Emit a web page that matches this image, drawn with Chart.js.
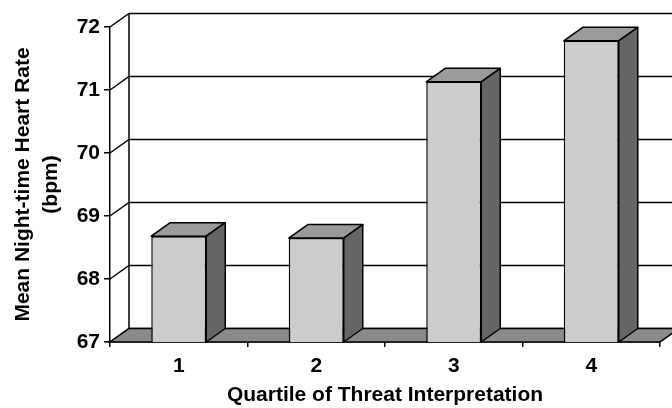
<!DOCTYPE html>
<html>
<head>
<meta charset="utf-8">
<script src="https://cdn.jsdelivr.net/npm/chart.js@4/dist/chart.umd.min.js"></script>
<style>
  html, body { margin: 0; padding: 0; background: #fff; }
  #wrap { width: 672px; height: 408px; }
</style>
</head>
<body>
<div id="wrap"><canvas id="heartChart"></canvas></div>
<script>
const quartiles = ['1', '2', '3', '4'];
const meanHeartRate = [68.68, 68.65, 71.13, 71.78];
const yMin = 67;
const yMax = 72;
const yStep = 1;

// depth of the fake 3d box
const DX = 19;
const DY = 13.5;

const box3d = {
    id: 'box3d',
    beforeDatasetsDraw(chart) {
        const ctx = chart.ctx;
        const area = chart.chartArea;
        const yScale = chart.scales.y;
        const L = area.left, R = area.right, B = area.bottom;
        ctx.save();
        ctx.strokeStyle = '#000';
        ctx.lineWidth = 1.5;
        // back wall gridlines + left wall diagonals
        for (let v = yMin; v <= yMax; v += yStep) {
            const y = yScale.getPixelForValue(v);
            ctx.beginPath();
            ctx.moveTo(L, y);
            ctx.lineTo(L + DX, y - DY);
            ctx.lineTo(R + DX, y - DY);
            ctx.stroke();
        }
        // back wall left edge
        ctx.beginPath();
        ctx.moveTo(L + DX, yScale.getPixelForValue(yMax) - DY);
        ctx.lineTo(L + DX, B - DY);
        ctx.stroke();
        // floor
        ctx.beginPath();
        ctx.moveTo(L, B);
        ctx.lineTo(R, B);
        ctx.lineTo(R + DX, B - DY);
        ctx.lineTo(L + DX, B - DY);
        ctx.closePath();
        ctx.fillStyle = '#8a8a8a';
        ctx.fill();
        ctx.stroke();
        ctx.restore();
    },
    afterDatasetsDraw(chart) {
        const ctx = chart.ctx;
        const bottom = chart.chartArea.bottom;
        ctx.save();
        ctx.strokeStyle = '#000';
        ctx.lineWidth = 1.5;
        ctx.lineJoin = 'round';
        chart.getDatasetMeta(0).data.forEach(function (bar) {
            const left = bar.x - bar.width / 2;
            const right = bar.x + bar.width / 2;
            const top = bar.y;
            const base = Math.min(bar.base, bottom);
            // top face
            ctx.beginPath();
            ctx.moveTo(left, top);
            ctx.lineTo(right, top);
            ctx.lineTo(right + DX, top - DY);
            ctx.lineTo(left + DX, top - DY);
            ctx.closePath();
            ctx.fillStyle = '#9a9a9a';
            ctx.fill();
            ctx.stroke();
            // side face
            ctx.beginPath();
            ctx.moveTo(right, top);
            ctx.lineTo(right + DX, top - DY);
            ctx.lineTo(right + DX, base - DY);
            ctx.lineTo(right, base);
            ctx.closePath();
            ctx.fillStyle = '#666666';
            ctx.fill();
            ctx.stroke();
        });
        ctx.restore();
    }
};

const boldFont = { family: "'Liberation Sans', Arial, sans-serif", size: 21, weight: 'bold' };

new Chart(document.getElementById('heartChart'), {
    type: 'bar',
    data: {
        labels: quartiles,
        datasets: [{
            data: meanHeartRate,
            backgroundColor: '#cccccc',
            borderColor: '#000',
            borderWidth: 1.5,
            borderSkipped: false,
            barPercentage: 0.4,
            categoryPercentage: 1.0
        }]
    },
    options: {
        responsive: true,
        maintainAspectRatio: false,
        animation: false,
        layout: { padding: { left: 0, top: 27, right: 12, bottom: 0 } },
        plugins: {
            legend: { display: false },
            tooltip: { enabled: false }
        },
        scales: {
            x: {
                grid: { offset: true, drawOnChartArea: false, tickLength: 5, color: '#000', lineWidth: 1.5 },
                border: { color: '#000', width: 1.5 },
                ticks: { color: '#000', font: boldFont, padding: 7 },
                title: {
                    display: true,
                    text: 'Quartile of Threat Interpretation',
                    color: '#000',
                    font: boldFont,
                    padding: { top: 0, bottom: 0 }
                },
                afterFit: function (scale) { scale.height = 66; }
            },
            y: {
                min: yMin,
                max: yMax,
                ticks: { stepSize: yStep, color: '#000', font: boldFont, padding: 4 },
                grid: { drawOnChartArea: false, tickLength: 6, color: '#000', lineWidth: 1.5 },
                border: { color: '#000', width: 1.5 },
                title: {
                    display: true,
                    text: ['Mean Night-time Heart Rate', '(bpm)'],
                    color: '#000',
                    font: { family: "'Liberation Sans', Arial, sans-serif", size: 21, weight: 'bold', lineHeight: 1.33 },
                    padding: { top: 9, bottom: 0 }
                },
                afterFit: function (scale) { scale.width = 110; }
            }
        }
    },
    plugins: [box3d]
});
</script>
</body>
</html>
